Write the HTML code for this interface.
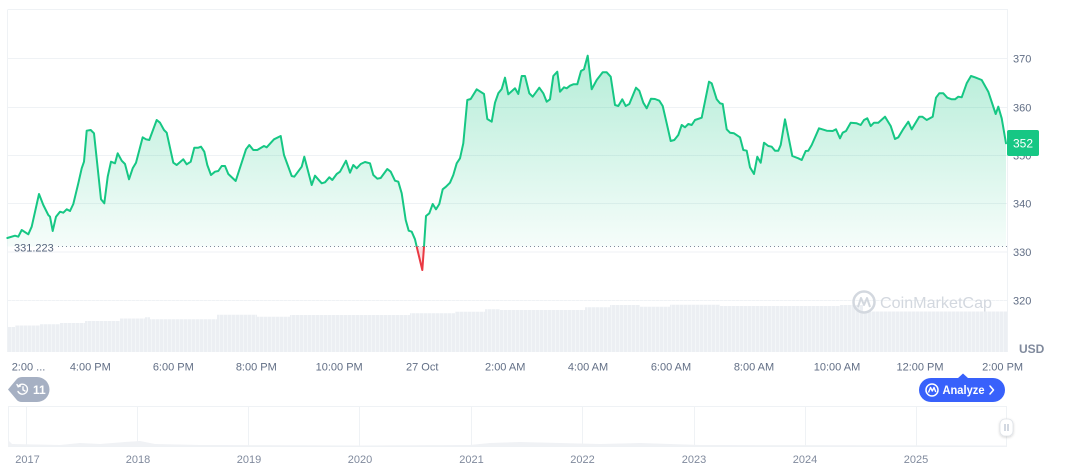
<!DOCTYPE html>
<html><head><meta charset="utf-8"><style>
html,body{margin:0;padding:0;background:#fff;}
svg{display:block;font-family:"Liberation Sans",Arial,sans-serif;}
</style></head><body>
<svg width="1072" height="470" viewBox="0 0 1072 470" xmlns="http://www.w3.org/2000/svg">
<defs>
<linearGradient id="gf" gradientUnits="userSpaceOnUse" x1="0" y1="55" x2="0" y2="247">
<stop offset="0" stop-color="#16c784" stop-opacity="0.32"/>
<stop offset="1" stop-color="#16c784" stop-opacity="0.04"/>
</linearGradient>
<clipPath id="above"><rect x="0" y="0" width="1072" height="246.5"/></clipPath>
<clipPath id="below"><rect x="0" y="246.5" width="1072" height="200"/></clipPath>
<pattern id="vp" x="8" y="0" width="4" height="10" patternUnits="userSpaceOnUse">
<rect x="3.3" y="0" width="0.7" height="10" fill="#fff" fill-opacity="0.55"/>
</pattern>
<filter id="sh" x="-50%" y="-50%" width="200%" height="200%"><feDropShadow dx="0" dy="1" stdDeviation="1.2" flood-color="#000" flood-opacity="0.18"/></filter>
</defs>

<!-- grid -->
<g stroke="#eff2f5" stroke-width="1">
<line x1="8" y1="9.5" x2="1008" y2="9.5"/>
<line x1="8" y1="58.5" x2="1008" y2="58.5"/>
<line x1="8" y1="107.5" x2="1008" y2="107.5"/>
<line x1="8" y1="155.5" x2="1008" y2="155.5"/>
<line x1="8" y1="203.5" x2="1008" y2="203.5"/>
<line x1="8" y1="252" x2="1008" y2="252"/>
<line x1="8" y1="300.5" x2="1008" y2="300.5"/>
<line x1="7.5" y1="9.5" x2="7.5" y2="352"/>
<line x1="1007.5" y1="9.5" x2="1007.5" y2="352"/>
</g>

<!-- volume -->
<path fill="#eceff3" d="M8,352 V327 H15 V325.5 H40 V324.3 H60 V323 H85 V321 H120 V318.5 H145 V317.3 H150 V319.3 H217 V314.7 H257 V316.7 H290 V315 H410 V313.3 H455 V311.7 H485 V309.3 H500 V310 H585 V307.3 H610 V305 H640 V306.7 H670 V304.7 H720 V306 H840 V305 H863 V311.5 H1007 V352 Z"/>
<rect x="8" y="300" width="999" height="52" fill="url(#vp)"/>

<!-- watermark -->
<g>
<circle cx="864" cy="302" r="10.5" fill="none" stroke="#d3d8df" stroke-width="2.5"/>
<path d="M858,307 L861,298 L864,305 L867,298 L870,307" fill="none" stroke="#d3d8df" stroke-width="2" stroke-linejoin="round"/>
<text x="880" y="308" font-size="16" fill="#d3d8df" textLength="112" lengthAdjust="spacingAndGlyphs">CoinMarketCap</text>
</g>

<!-- price area -->
<g id="series">
<path clip-path="url(#above)" fill="url(#gf)" d="M7.3,246.5 L7.3,238 15,235.7 18.3,236.7 21.7,230 28.3,234.3 31.7,226.7 39,194 43.3,205 48.3,215 50,216.7 52.7,231 56,216.7 60,211.7 63.3,212.7 66.7,209.3 70,211 73.3,204 78.3,183.3 81.7,168.3 84,161.7 86.7,130.7 90.7,130 94,133.3 101,199.3 104.3,203.3 107.7,176.7 111,161.7 115,163.3 117.7,153.3 121.7,160.7 125,164 129,179.3 132.7,168.3 136,162.7 142.7,137.3 146,139.3 149.3,140 156.7,120 160,122.7 164,130 166.7,132.7 173.3,162.7 176.7,165 183.3,159.3 186.7,164.3 190.7,161.7 194.3,147.7 198.3,147.7 201,146.7 204.3,151.7 207.3,165 211,175 215,171.7 218.3,171 221.7,166 225,166 228.3,174 235.7,181 246,149.3 249.3,145 253.3,150 257.3,150 264,146 266.7,147.3 274,139.3 280.7,136 284,155 291.7,176 294.3,176.7 301.7,166.7 304.3,156.7 311.7,185 315,175.7 321.7,183.3 325,182.3 329.3,177.3 332.3,180 336.7,174 340,171.7 346,160.7 350,172.7 353.3,165 356.7,168.3 360.7,164 365,162 370,163.3 373.3,175 377.3,178.7 380.7,178 387.3,169 390.7,171.7 395,180.7 398.3,181.7 401.7,193.3 405.7,220 408.7,230.7 411.7,231.7 415,239.3 416.7,246.7 422.3,270 424,246.7 426,216 429.3,213.3 432.7,204 436,209.3 439.3,204 442.7,189.3 446,186.7 450,182.7 453.3,175 456.7,163.3 460,158.3 463.3,143.3 467.3,100 470.7,99 476.7,89.3 484,94 487.3,119 491.7,121.7 495,102.7 498.3,93.3 501.7,89 505,77.7 508.3,94.3 515,88.3 518.3,94 521.7,76 525,76 529.3,93.3 532.7,96.7 539.3,87.7 543.3,93.3 546.7,101.7 550,99.3 553.3,76 557.3,71.7 560,91.7 564,87.3 566.7,88.3 570,85.7 573.3,84.3 577.3,84.3 581,71 584,69.3 587.7,55.7 591.7,89.3 596.7,80 602.7,72.3 606.7,72.3 610.7,76.7 615,105 618.3,106 622.3,99.3 625.7,106 629.3,104 636,87.7 639.3,90.7 643.3,102.7 646.7,108.3 651,98.7 655,99 659.3,100.7 662.7,106 666.7,123.3 670.7,141 674.3,140 678.3,135 681.7,125 685,127.3 688.3,124 691.7,125 695,120 701.7,117.7 709,81.7 711.7,83.3 716.7,99.3 720,103.3 722.7,104 726.7,129.3 730,132.7 734,133.3 740,137.3 743.3,150 746.7,150.7 750,167.3 754,174 757.3,156.7 760.7,162.7 764,142.7 768.3,146 771.7,146.7 775,150.7 778.3,150.7 780.7,145 785,119.3 792.3,156 798.3,158.3 801.7,160 805.7,151 808.3,150.7 811.7,145 819,128.3 826.7,130.7 832.7,131 836,129.3 840,138.3 842.7,132.7 846,131 850.7,122.7 856.7,123.3 860.7,125 864,120 867.3,118.3 870.7,126 874,122.7 878.3,122.7 885,116.7 890.7,126 895,139 898.3,137.3 903.3,129 908.3,121.7 911.7,129.3 919.3,116.7 922.3,116.7 926.7,120 932.7,116.7 936,97.7 939.3,93.3 943.3,93.3 947.3,97.7 951.7,99.3 955,99.3 958.3,96.7 961.7,97.3 966.7,83.3 971,76 975,77.3 981.7,80 988.3,91.7 995.7,114 998.3,106.7 1001.7,118.3 1006,143.3 L1006,246.5 Z"/>
<path clip-path="url(#below)" fill="#ea3943" fill-opacity="0.15" d="M415,246.5 L416.7,246.7 422.3,270 424,246.7 Z"/>
</g>

<!-- baseline dotted -->
<line x1="58" y1="246.5" x2="1007" y2="246.5" stroke="#808a9d" stroke-width="1" stroke-dasharray="1 3"/>
<text x="14" y="251.3" font-size="11" fill="#58667e">331.223</text>

<!-- line -->
<g fill="none" stroke-width="2" stroke-linejoin="round" stroke-linecap="round">
<polyline clip-path="url(#above)" stroke="#16c784" points="7.3,238 15,235.7 18.3,236.7 21.7,230 28.3,234.3 31.7,226.7 39,194 43.3,205 48.3,215 50,216.7 52.7,231 56,216.7 60,211.7 63.3,212.7 66.7,209.3 70,211 73.3,204 78.3,183.3 81.7,168.3 84,161.7 86.7,130.7 90.7,130 94,133.3 101,199.3 104.3,203.3 107.7,176.7 111,161.7 115,163.3 117.7,153.3 121.7,160.7 125,164 129,179.3 132.7,168.3 136,162.7 142.7,137.3 146,139.3 149.3,140 156.7,120 160,122.7 164,130 166.7,132.7 173.3,162.7 176.7,165 183.3,159.3 186.7,164.3 190.7,161.7 194.3,147.7 198.3,147.7 201,146.7 204.3,151.7 207.3,165 211,175 215,171.7 218.3,171 221.7,166 225,166 228.3,174 235.7,181 246,149.3 249.3,145 253.3,150 257.3,150 264,146 266.7,147.3 274,139.3 280.7,136 284,155 291.7,176 294.3,176.7 301.7,166.7 304.3,156.7 311.7,185 315,175.7 321.7,183.3 325,182.3 329.3,177.3 332.3,180 336.7,174 340,171.7 346,160.7 350,172.7 353.3,165 356.7,168.3 360.7,164 365,162 370,163.3 373.3,175 377.3,178.7 380.7,178 387.3,169 390.7,171.7 395,180.7 398.3,181.7 401.7,193.3 405.7,220 408.7,230.7 411.7,231.7 415,239.3 416.7,246.7 422.3,270 424,246.7 426,216 429.3,213.3 432.7,204 436,209.3 439.3,204 442.7,189.3 446,186.7 450,182.7 453.3,175 456.7,163.3 460,158.3 463.3,143.3 467.3,100 470.7,99 476.7,89.3 484,94 487.3,119 491.7,121.7 495,102.7 498.3,93.3 501.7,89 505,77.7 508.3,94.3 515,88.3 518.3,94 521.7,76 525,76 529.3,93.3 532.7,96.7 539.3,87.7 543.3,93.3 546.7,101.7 550,99.3 553.3,76 557.3,71.7 560,91.7 564,87.3 566.7,88.3 570,85.7 573.3,84.3 577.3,84.3 581,71 584,69.3 587.7,55.7 591.7,89.3 596.7,80 602.7,72.3 606.7,72.3 610.7,76.7 615,105 618.3,106 622.3,99.3 625.7,106 629.3,104 636,87.7 639.3,90.7 643.3,102.7 646.7,108.3 651,98.7 655,99 659.3,100.7 662.7,106 666.7,123.3 670.7,141 674.3,140 678.3,135 681.7,125 685,127.3 688.3,124 691.7,125 695,120 701.7,117.7 709,81.7 711.7,83.3 716.7,99.3 720,103.3 722.7,104 726.7,129.3 730,132.7 734,133.3 740,137.3 743.3,150 746.7,150.7 750,167.3 754,174 757.3,156.7 760.7,162.7 764,142.7 768.3,146 771.7,146.7 775,150.7 778.3,150.7 780.7,145 785,119.3 792.3,156 798.3,158.3 801.7,160 805.7,151 808.3,150.7 811.7,145 819,128.3 826.7,130.7 832.7,131 836,129.3 840,138.3 842.7,132.7 846,131 850.7,122.7 856.7,123.3 860.7,125 864,120 867.3,118.3 870.7,126 874,122.7 878.3,122.7 885,116.7 890.7,126 895,139 898.3,137.3 903.3,129 908.3,121.7 911.7,129.3 919.3,116.7 922.3,116.7 926.7,120 932.7,116.7 936,97.7 939.3,93.3 943.3,93.3 947.3,97.7 951.7,99.3 955,99.3 958.3,96.7 961.7,97.3 966.7,83.3 971,76 975,77.3 981.7,80 988.3,91.7 995.7,114 998.3,106.7 1001.7,118.3 1006,143.3"/>
<polyline clip-path="url(#below)" stroke="#ea3943" points="415,239.3 416.7,246.7 422.3,270 424,246.7 426,216"/>
</g>

<!-- y axis labels -->
<g font-size="11" fill="#616e85">
<text x="1013" y="62.5">370</text>
<text x="1013" y="111.5">360</text>
<text x="1013" y="159.5">350</text>
<text x="1013" y="207.5">340</text>
<text x="1013" y="256">330</text>
<text x="1013" y="304.5">320</text>
</g>
<rect x="1007" y="130" width="32" height="26" rx="2" fill="#16c784"/>
<text x="1023" y="147.5" font-size="12" fill="#fff" text-anchor="middle">352</text>
<text x="1019" y="353" font-size="12" font-weight="bold" fill="#808a9d">USD</text>

<!-- x axis labels -->
<g font-size="11" fill="#616e85" text-anchor="middle">
<text x="11.7" y="370.5" text-anchor="start">2:00 ...</text>
<text x="90.3" y="370.5">4:00 PM</text>
<text x="173.3" y="370.5">6:00 PM</text>
<text x="256.3" y="370.5">8:00 PM</text>
<text x="339.2" y="370.5">10:00 PM</text>
<text x="422.2" y="370.5">27 Oct</text>
<text x="505.2" y="370.5">2:00 AM</text>
<text x="588" y="370.5">4:00 AM</text>
<text x="671" y="370.5">6:00 AM</text>
<text x="754" y="370.5">8:00 AM</text>
<text x="837" y="370.5">10:00 AM</text>
<text x="920" y="370.5">12:00 PM</text>
<text x="1002.6" y="370.5">2:00 PM</text>
</g>

<!-- history badge -->
<path d="M8,389.5 L16,380 Q18,377 22,377 L37,377 A12.5,12.5 0 0 1 37,402 L22,402 Q18,402 16,399 Z" fill="#a6b0c3"/>
<g fill="none" stroke="#fff" stroke-width="1.4" stroke-linecap="round">
<path d="M18.2,386.5 A5,5 0 1 1 18,391.5"/>
<path d="M17,384.5 L18.2,386.8 L20.5,386"/>
<path d="M23,386.8 L23,389.8 L25,391"/>
</g>
<text x="33" y="394" font-size="12" font-weight="bold" fill="#fff">11</text>

<!-- analyze button -->
<path d="M957.5,378.5 L963,373.5 L968.5,378.5 Z" fill="#3861fb"/>
<rect x="919" y="378" width="86" height="24" rx="12" fill="#3861fb"/>
<circle cx="932" cy="390" r="6" fill="none" stroke="#fff" stroke-width="1.5"/>
<path d="M928.5,392.5 L930.5,387.5 L932.3,391 L934,387.5 L935.8,392" fill="none" stroke="#fff" stroke-width="1.4" stroke-linejoin="round"/>
<text x="942.5" y="394" font-size="11.5" font-weight="bold" fill="#fff" textLength="42" lengthAdjust="spacingAndGlyphs">Analyze</text>
<polyline points="990,386 993.5,390 990,394" fill="none" stroke="#fff" stroke-width="1.5" stroke-linecap="round" stroke-linejoin="round"/>

<!-- navigator -->
<g stroke="#eff2f5" stroke-width="1">
<line x1="8" y1="406.5" x2="1007" y2="406.5"/>
<line x1="8" y1="446.5" x2="1007" y2="446.5"/>
<line x1="8.5" y1="406.5" x2="8.5" y2="446.5"/>
<line x1="26.5" y1="406.5" x2="26.5" y2="446.5"/>
<line x1="137.5" y1="406.5" x2="137.5" y2="446.5"/>
<line x1="248.5" y1="406.5" x2="248.5" y2="446.5"/>
<line x1="359.5" y1="406.5" x2="359.5" y2="446.5"/>
<line x1="471.5" y1="406.5" x2="471.5" y2="446.5"/>
<line x1="582.5" y1="406.5" x2="582.5" y2="446.5"/>
<line x1="694.5" y1="406.5" x2="694.5" y2="446.5"/>
<line x1="805.5" y1="406.5" x2="805.5" y2="446.5"/>
<line x1="916.5" y1="406.5" x2="916.5" y2="446.5"/>
<line x1="1006.5" y1="406.5" x2="1006.5" y2="446.5"/>
</g>
<path d="M8,446 L8,440 L12,444 L60,445 L80,443 L100,444 L125,442 L140,441 L155,444 L200,445 L360,445.5 L470,445 L490,443 L520,442 L560,443 L600,444 L640,443 L700,445 L1006,445.5 L1006,446 Z" fill="#f0f2f5"/>
<g font-size="11" fill="#808a9d" text-anchor="middle">
<text x="27.5" y="463">2017</text>
<text x="138" y="463">2018</text>
<text x="249" y="463">2019</text>
<text x="360" y="463">2020</text>
<text x="471.5" y="463">2021</text>
<text x="582.5" y="463">2022</text>
<text x="694" y="463">2023</text>
<text x="805" y="463">2024</text>
<text x="916" y="463">2025</text>
</g>
<rect x="1000" y="419" width="13" height="17" rx="5" fill="#fff" stroke="#dfe3e8" stroke-width="0.8" filter="url(#sh)"/>
<line x1="1005" y1="424" x2="1005" y2="431" stroke="#a6b0c3" stroke-width="1"/>
<line x1="1008" y1="424" x2="1008" y2="431" stroke="#a6b0c3" stroke-width="1"/>
</svg>
</body></html>
